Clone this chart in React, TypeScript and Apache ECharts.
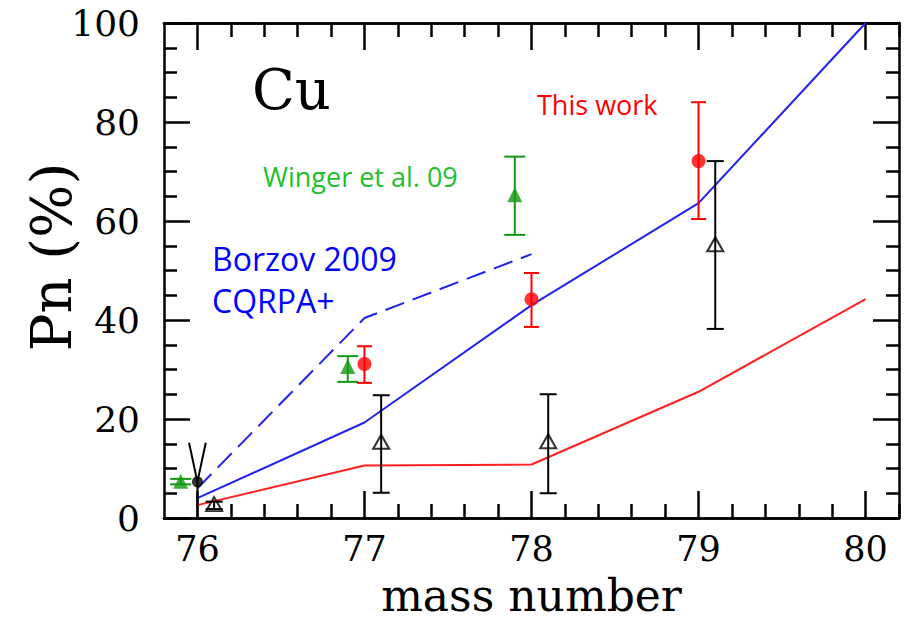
import React, { useEffect, useRef } from "react";
import * as echarts from "echarts";

// ---- data ----
const xMajorTicks = [76, 77, 78, 79, 80];
const xMinorTicks = [
  76.2, 76.4, 76.6, 76.8, 77.2, 77.4, 77.6, 77.8, 78.2, 78.4, 78.6, 78.8,
  79.2, 79.4, 79.6, 79.8, 80.2,
];
// theory curves
const borzovSolid = [[76, 4.0], [77, 19.3], [78, 43.0], [79, 63.6], [80, 100]];
const borzovDashed = [[76, 6.0], [77, 40.4], [78, 53.3]];
const redCurve = [[76, 2.6], [77, 10.6], [78, 10.8], [79, 25.5], [80, 44.2]];
// This work (x, value, low, high)
const thisWorkX = [77, 78, 79];
const thisWorkVal = [31.1, 44.2, 72.1];
const thisWorkLow = [27.3, 38.6, 60.4];
const thisWorkHigh = [34.7, 49.5, 84.0];
// Winger et al. 09
const wingerX = [75.9, 76.9, 77.9];
const wingerVal = [7.4, 30.6, 65.3];
const wingerLow = [6.8, 27.5, 57.2];
const wingerHigh = [7.9, 32.7, 73.0];
// older data (open triangles)
const oldX = [76.1, 77.1, 78.1, 79.1];
const oldVal = [2.8, 15.4, 15.5, 55.3];
const oldLow = [1.8, 5.1, 5.0, 38.2];
const oldHigh = [3.3, 24.8, 25.0, 72.1];
// black dot with limit at 76
const dotX = [76];
const dotVal = [7.3];
const dotLow = [0];
const limitV = [[75.95, 15.2], [76, 7.3], [76.05, 15.2]];

const zip = (x: number[], v: number[]) => x.map((xx, i) => [xx, v[i]]);
const zip3 = (x: number[], lo: number[], hi: number[]) =>
  x.map((xx, i) => [xx, lo[i], hi[i]]);

const errorBars = (
  data: number[][],
  color: string,
  halfCap: number,
  name: string
) => ({
  type: "custom",
  name,
  data,
  z: 4,
  renderItem: (params: any, api: any) => {
    const x = api.value(0);
    const lo = api.coord([x, api.value(1)]);
    const hi = api.coord([x, api.value(2)]);
    const style = { stroke: color, lineWidth: 2 };
    const children: any[] = [
      { type: "line", shape: { x1: lo[0], y1: lo[1], x2: hi[0], y2: hi[1] }, style },
    ];
    if (halfCap > 0) {
      children.push(
        { type: "line", shape: { x1: lo[0] - halfCap, y1: lo[1], x2: lo[0] + halfCap, y2: lo[1] }, style },
        { type: "line", shape: { x1: hi[0] - halfCap, y1: hi[1], x2: hi[0] + halfCap, y2: hi[1] }, style }
      );
    }
    return { type: "group", children };
  },
});

const SERIF = '"DejaVu Serif", serif';
const SANS = '"Open Sans", sans-serif';
const AXIS_COLOR = "#000";

export default function App() {
  const ref = useRef<HTMLDivElement>(null);
  useEffect(() => {
    if (!ref.current) return;
    const chart = echarts.init(ref.current, null, { renderer: "svg" });
    const lineStyleAxis = { color: AXIS_COLOR, width: 2.5 };
    const xBase = {
      type: "value",
      min: 75.8,
      max: 80.2,
      splitLine: { show: false },
      axisLine: { show: true, onZero: false, lineStyle: lineStyleAxis },
    };
    const option: any = {
      animation: false,
      backgroundColor: "#fff",
      grid: { left: 164, right: 11, top: 23, bottom: 103 },
      xAxis: [
        {
          ...xBase,
          position: "bottom",
          axisTick: { show: true, inside: true, length: 27, lineStyle: lineStyleAxis, customValues: xMajorTicks },
          axisLabel: {
            show: true,
            customValues: xMajorTicks,
            margin: 13,
            fontFamily: SERIF,
            fontSize: 35,
            lineHeight: 35,
            color: "#000",
          },
        },
        {
          ...xBase,
          position: "bottom",
          axisTick: { show: true, inside: true, length: 14, lineStyle: lineStyleAxis, customValues: xMinorTicks },
          axisLabel: { show: false },
        },
        {
          ...xBase,
          position: "top",
          axisTick: { show: true, inside: true, length: 27, lineStyle: lineStyleAxis, customValues: xMajorTicks },
          axisLabel: { show: false },
        },
        {
          ...xBase,
          position: "top",
          axisTick: { show: true, inside: true, length: 14, lineStyle: lineStyleAxis, customValues: xMinorTicks },
          axisLabel: { show: false },
        },
      ],
      yAxis: [
        {
          type: "value",
          min: 0,
          max: 100,
          interval: 20,
          position: "left",
          splitLine: { show: false },
          axisLine: { show: true, onZero: false, lineStyle: lineStyleAxis },
          axisTick: { show: true, inside: true, length: 26, lineStyle: lineStyleAxis },
          minorTick: { show: true, splitNumber: 4, length: 13, lineStyle: lineStyleAxis },
          axisLabel: { margin: 24, fontFamily: SERIF, fontSize: 36, lineHeight: 36, color: "#000" },
        },
        {
          type: "value",
          min: 0,
          max: 100,
          interval: 20,
          position: "right",
          splitLine: { show: false },
          axisLine: { show: true, onZero: false, lineStyle: lineStyleAxis },
          axisTick: { show: true, inside: true, length: 26, lineStyle: lineStyleAxis },
          minorTick: { show: true, splitNumber: 4, length: 13, lineStyle: lineStyleAxis },
          axisLabel: { show: false },
        },
      ],
      graphic: [
        {
          type: "text",
          x: 51,
          y: 257,
          rotation: Math.PI / 2,
          style: { text: "Pn (%)", font: `56px ${SERIF}`, fill: "#000", align: "center", verticalAlign: "middle" },
        },
        {
          type: "text",
          x: 531.5,
          y: 595,
          style: {
            text: "mass number",
            font: `44px ${SERIF}`,
            lineHeight: 44,
            fill: "#000",
            align: "center",
            verticalAlign: "middle",
          },
        },
        {
          type: "text",
          x: 252,
          y: 89,
          style: { text: "Cu", font: `56px ${SERIF}`, fill: "#000", align: "left", verticalAlign: "middle" },
        },
        {
          type: "text",
          x: 537,
          y: 104,
          style: { text: "This work", font: `27px ${SANS}`, fill: "#ff0000", align: "left", verticalAlign: "middle" },
        },
        {
          type: "text",
          x: 263,
          y: 176,
          style: { text: "Winger et al. 09", font: `27px ${SANS}`, fill: "#22c02c", align: "left", verticalAlign: "middle" },
        },
        {
          type: "text",
          x: 212,
          y: 258,
          style: { text: "Borzov 2009", font: `32px ${SANS}`, fill: "#0000ff", align: "left", verticalAlign: "middle" },
        },
        {
          type: "text",
          x: 212,
          y: 300,
          style: { text: "CQRPA+", font: `32px ${SANS}`, fill: "#0000ff", align: "left", verticalAlign: "middle" },
        },
      ],
      series: [
        {
          type: "line",
          name: "Borzov 2009 CQRPA+",
          data: borzovSolid,
          symbol: "none",
          lineStyle: { color: "#2222ee", width: 2 },
          z: 2,
        },
        {
          type: "line",
          name: "Borzov dashed",
          data: borzovDashed,
          symbol: "none",
          lineStyle: { color: "#2222ee", width: 2, type: [20, 9] },
          z: 2,
        },
        {
          type: "line",
          name: "model",
          data: redCurve,
          symbol: "none",
          lineStyle: { color: "#ff2020", width: 2 },
          z: 2,
        },
        {
          type: "line",
          name: "limit",
          data: limitV,
          symbol: "none",
          lineStyle: { color: "#000", width: 2 },
          z: 3,
        },
        errorBars(zip3(oldX, oldLow, oldHigh), "#000", 8.5, "old err"),
        errorBars(zip3(dotX, dotLow, dotVal), "#000", 0, "dot limit"),
        errorBars(zip3(wingerX, wingerLow, wingerHigh), "#119911", 10.5, "Winger err"),
        errorBars(zip3(thisWorkX, thisWorkLow, thisWorkHigh), "#ff0000", 7.5, "This work err"),
        {
          type: "scatter",
          name: "old",
          data: zip(oldX, oldVal),
          symbol: "triangle",
          symbolSize: [16, 14],
          itemStyle: { color: "rgba(0,0,0,0)", borderColor: "#000", borderWidth: 2 },
          z: 5,
        },
        {
          type: "scatter",
          name: "dot",
          data: zip(dotX, dotVal),
          symbol: "circle",
          symbolSize: 11,
          itemStyle: { color: "#000" },
          z: 5,
        },
        {
          type: "scatter",
          name: "Winger et al. 09",
          data: zip(wingerX, wingerVal),
          symbol: "triangle",
          symbolSize: [15, 15],
          itemStyle: { color: "#119911" },
          z: 5,
        },
        {
          type: "scatter",
          name: "This work",
          data: zip(thisWorkX, thisWorkVal),
          symbol: "circle",
          symbolSize: 14,
          itemStyle: { color: "#ff0000" },
          z: 5,
        },
      ],
    };
    chart.setOption(option);
    return () => chart.dispose();
  }, []);
  return (
    <div
      ref={ref}
      style={{ position: "fixed", left: 0, top: 0, width: 910, height: 621, background: "#fff" }}
    />
  );
}
